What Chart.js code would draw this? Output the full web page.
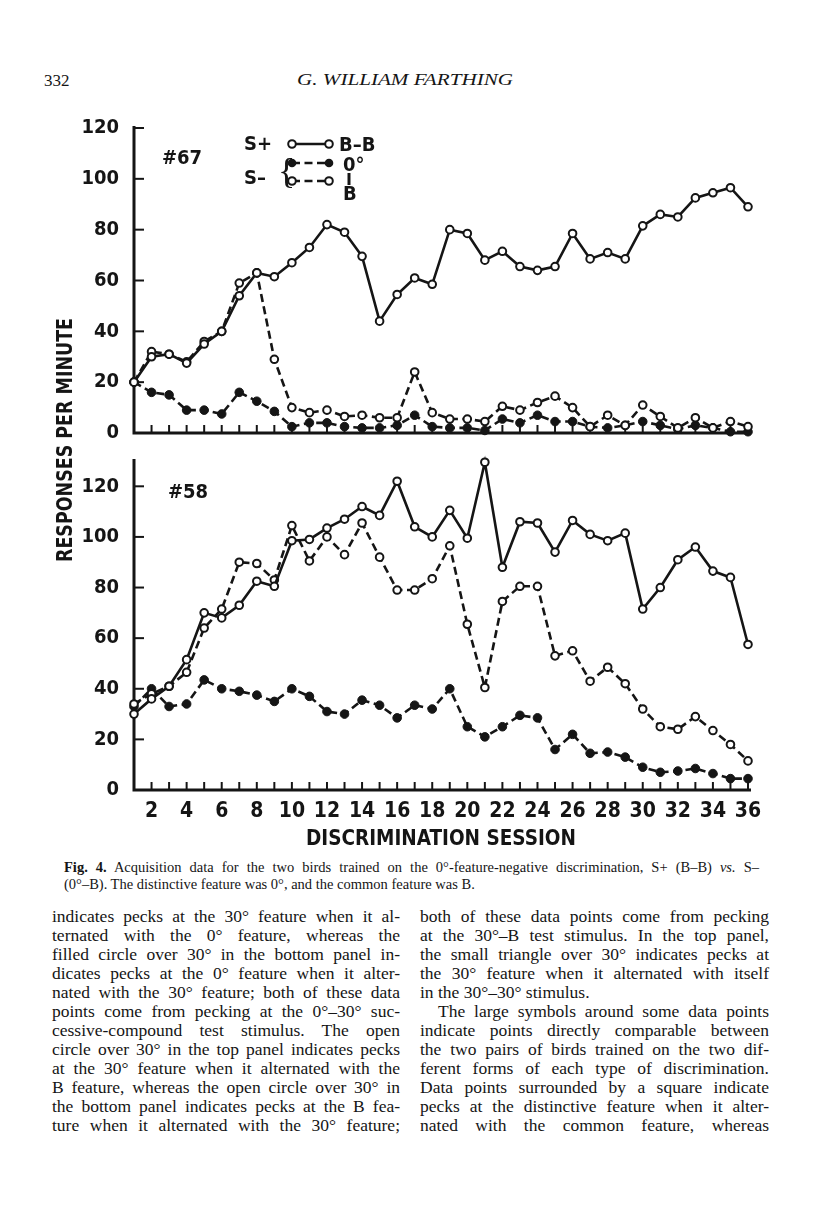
<!DOCTYPE html>
<html>
<head>
<meta charset="utf-8">
<title>Fig. 4</title>
<script src="https://cdn.jsdelivr.net/npm/chart.js@4.4.1/dist/chart.umd.min.js"></script>
<style>
  body { margin: 0; background: #fff; }
  #page { position: relative; width: 816px; height: 1207px; overflow: hidden; background: #fff; color: #151515; }
  .t { position: absolute; white-space: nowrap; line-height: 1; }
  .g { font-family: 'DejaVu Sans Condensed', 'DejaVu Sans', sans-serif; font-weight: bold; }
  .s { font-family: 'Liberation Serif', 'DejaVu Serif', serif; }
  .ln { position: absolute; white-space: nowrap; line-height: 19px; font-size: 17.5px; transform-origin: 0 50%; }
  .cap { position: absolute; white-space: nowrap; line-height: 17px; font-size: 14.5px; transform-origin: 0 50%; }
  canvas { position: absolute; left: 0; }
</style>
</head>
<body>
<div id="page">
  <div class="t s" style="left:44px;top:72px;font-size:17px">332</div>
  <div class="t s fit" data-w="216" style="left:297px;top:71px;font-size:17px;font-style:italic">G. WILLIAM FARTHING</div>

  <canvas id="c67" width="816" height="352" style="top:100px"></canvas>
  <canvas id="c58" width="816" height="388" style="top:442px"></canvas>

  <!-- legend samples -->
  <svg style="position:absolute;left:0;top:0" width="816" height="220">
    <g stroke="#151515" stroke-width="2.6" fill="none">
      <line x1="292" y1="144" x2="329" y2="144"/>
      <line x1="292" y1="163" x2="329" y2="163" stroke-dasharray="8 4.5"/>
      <line x1="292" y1="181" x2="329" y2="181" stroke-dasharray="8 4.5"/>
      <line x1="349" y1="173" x2="349" y2="185" stroke-width="3"/>
    </g>
    <g stroke="#151515" stroke-width="2" fill="#fff">
      <circle cx="292" cy="144" r="3.8"/><circle cx="329" cy="144" r="3.8"/>
      <circle cx="292" cy="181" r="3.8"/><circle cx="329" cy="181" r="3.8"/>
    </g>
    <g fill="#151515">
      <circle cx="292" cy="163" r="4.3"/><circle cx="329" cy="163" r="4.3"/>
    </g>
  </svg>
  <div class="t g" style="left:244px;top:133px;font-size:20px">S+</div>
  <div class="t g" style="left:339px;top:134px;font-size:20px">B–B</div>
  <div class="t g" style="left:343px;top:154px;font-size:20px">0°</div>
  <div class="t g" style="left:244px;top:167px;font-size:20px">S–</div>
  <div class="t s" style="left:278px;top:153px;font-size:36px">{</div>
  <div class="t g" style="left:343px;top:183px;font-size:20px">B</div>
  <div class="t g" style="left:162px;top:147px;font-size:20px">#67</div>
  <div class="t g" style="left:168px;top:481px;font-size:20px">#58</div>

  <div class="t g" id="ytitle" style="left:65px;top:440px;font-size:22px">RESPONSES PER MINUTE</div>
  <div class="t g" id="xtitle" style="left:441px;top:838px;font-size:22px">DISCRIMINATION SESSION</div>

  <div class="cap s just" data-w="695" style="left:64px;top:859px"><b>Fig. 4.</b> Acquisition data for the two birds trained on the 0°-feature-negative discrimination, S+ (B–B) <i>vs.</i> S–</div>
  <div class="cap s" style="left:64px;top:876px">(0°–B). The distinctive feature was 0°, and the common feature was B.</div>

  <div id="body"></div>
</div>

<script>
const ink = '#151515';
const gfont = "'DejaVu Sans Condensed', 'DejaVu Sans', sans-serif";

// sessions and labelled sessions on the x axis
const sessions = [1, 2, 3, 4, 5, 6, 7, 8, 9, 10, 11, 12, 13, 14, 15, 16, 17, 18,
  19, 20, 21, 22, 23, 24, 25, 26, 27, 28, 29, 30, 31, 32, 33, 34, 35, 36];
const xTickLabels = [2, 4, 6, 8, 10, 12, 14, 16, 18, 20, 22, 24, 26, 28, 30, 32, 34, 36];
const yTickLabels = [0, 20, 40, 60, 80, 100, 120];

// bird #67
const sPlus67 = [20, 30, 31, 27.5, 35, 40, 54, 63, 61.5, 67, 73, 82, 79, 69.5, 44, 54.5, 61, 58.5,
  80, 78.5, 68, 71.5, 65.5, 64, 65.5, 78.5, 68.5, 71, 68.5, 81.5, 86, 85, 92.5, 94.5, 96.5, 89];
const sMinusB67 = [20, 32, 31, 28, 36, 40, 59, 63, 29, 10, 8, 9, 6.5, 7, 6, 6, 24, 8,
  5.5, 5.5, 4.5, 10.5, 9, 12, 14.5, 10, 2.5, 7, 3, 11, 6.5, 2, 6, 2, 4.5, 2.5];
const sMinus0_67 = [20, 16, 15, 9, 9, 7.5, 16, 12.5, 8.5, 2.5, 4, 4, 2.5, 2, 2, 3, 7, 2.5,
  2, 2, 1, 5.5, 4, 7, 4.5, 4.5, 2.5, 2, 3, 4.5, 3, 1.5, 3, 2, 0.5, 0.5];

// bird #58
const sPlus58 = [30, 36, 41, 51.5, 70, 68, 73, 82.5, 80.5, 98.5, 99, 103.5, 107, 112, 108.5, 122, 104, 100,
  110.5, 99.5, 129.5, 88, 106, 105.5, 94, 106.5, 101, 98.5, 101.5, 71.5, 80, 91, 96, 86.5, 84, 57.5];
const sMinusB58 = [34, 38, 41, 46.5, 64, 71.5, 90, 89.5, 83, 104.5, 90.5, 100, 93, 105.5, 92, 79, 79, 83.5,
  96.5, 65.5, 40.5, 74.5, 80.5, 80.5, 53, 55, 43, 48.5, 42, 32, 25, 24, 29, 23.5, 18, 11.5];
const sMinus0_58 = [33, 40, 33, 34, 43.5, 40, 39, 37.5, 35, 40, 37, 31, 30, 35.5, 33.5, 28.5, 33.5, 32,
  40, 25, 21, 25, 29.5, 28.5, 16, 22, 14.5, 15, 13, 9, 7, 7.5, 8.5, 6.5, 4.5, 4.5];

// axis lines plus the short inward ticks
const axesMarks = {
  id: 'axesMarks',
  beforeDatasetsDraw(chart) {
    const {ctx, chartArea: a, scales: {x, y}} = chart;
    ctx.save();
    ctx.strokeStyle = ink;
    ctx.lineWidth = 3;
    ctx.beginPath();
    ctx.moveTo(a.left, a.top - 2);
    ctx.lineTo(a.left, a.bottom);
    ctx.lineTo(a.right + 3, a.bottom);
    ctx.stroke();
    ctx.lineWidth = 2;
    y.ticks.forEach(t => {
      if (t.value === 0) return;
      const py = y.getPixelForValue(t.value);
      ctx.beginPath(); ctx.moveTo(a.left, py); ctx.lineTo(a.left + 10, py); ctx.stroke();
    });
    sessions.forEach((s, i) => {
      const px = x.getPixelForValue(i);
      ctx.beginPath(); ctx.moveTo(px, a.bottom); ctx.lineTo(px, a.bottom - 8); ctx.stroke();
    });
    ctx.restore();
  }
};

function line(data, dashed, filled) {
  return {
    data: data,
    borderColor: ink,
    borderWidth: 2.6,
    borderDash: dashed ? [8, 4.5] : [],
    tension: 0,
    clip: false,
    pointRadius: filled ? 4.3 : 3.8,
    pointBorderWidth: filled ? 1 : 2,
    pointBackgroundColor: filled ? ink : '#fff',
    pointBorderColor: ink
  };
}

function panel(id, series, yMax, showX, padTop, padBottom) {
  new Chart(document.getElementById(id), {
    type: 'line',
    data: {
      labels: sessions,
      datasets: [line(series[0], false, false), line(series[1], true, false), line(series[2], true, true)]
    },
    options: {
      responsive: false,
      animation: false,
      layout: { padding: { left: 70, right: 68, top: padTop, bottom: padBottom } },
      plugins: { legend: { display: false }, tooltip: { enabled: false } },
      scales: {
        x: {
          offset: false,
          grid: { display: false },
          border: { display: false },
          ticks: {
            display: showX, autoSkip: false, maxRotation: 0, padding: 1, color: ink,
            font: { family: gfont, weight: 'bold', size: 21 },
            callback: (v, i) => xTickLabels.includes(sessions[i]) ? String(sessions[i]) : ''
          },
          afterFit: s => { s.height = showX ? 40 : 0; }
        },
        y: {
          min: 0, max: yMax,
          grid: { display: false },
          border: { display: false },
          ticks: {
            stepSize: 10, padding: 7, color: ink,
            font: { family: gfont, weight: 'bold', size: 20 },
            callback: v => yTickLabels.includes(v) ? String(v) : ''
          },
          afterFit: s => { s.width = 64; }
        }
      }
    },
    plugins: [axesMarks]
  });
}

panel('c67', [sPlus67, sMinusB67, sMinus0_67], 120, false, 28, 14);
panel('c58', [sPlus58, sMinusB58, sMinus0_58], 130, true, 14, 0);

// body text, two columns
const leftLines = [
  'indicates pecks at the 30° feature when it al-',
  'ternated with the 0° feature, whereas the',
  'filled circle over 30° in the bottom panel in-',
  'dicates pecks at the 0° feature when it alter-',
  'nated with the 30° feature; both of these data',
  'points come from pecking at the 0°–30° suc-',
  'cessive-compound test stimulus. The open',
  'circle over 30° in the top panel indicates pecks',
  'at the 30° feature when it alternated with the',
  'B feature, whereas the open circle over 30° in',
  'the bottom panel indicates pecks at the B fea-',
  'ture when it alternated with the 30° feature;'
];
const rightLines = [
  'both of these data points come from pecking',
  'at the 30°–B test stimulus. In the top panel,',
  'the small triangle over 30° indicates pecks at',
  'the 30° feature when it alternated with itself',
  'in the 30°–30° stimulus.',
  'The large symbols around some data points',
  'indicate points directly comparable between',
  'the two pairs of birds trained on the two dif-',
  'ferent forms of each type of discrimination.',
  'Data points surrounded by a square indicate',
  'pecks at the distinctive feature when it alter-',
  'nated with the common feature, whereas'
];
const body = document.getElementById('body');
function addLine(text, x, y, w, justify) {
  const d = document.createElement('div');
  d.className = 'ln s' + (justify ? ' just' : '');
  d.dataset.w = w;
  d.style.left = x + 'px';
  d.style.top = y + 'px';
  d.textContent = text;
  body.appendChild(d);
}
leftLines.forEach((t, i) => addLine(t, 52, 907 + 19 * i, 348, true));
rightLines.forEach((t, i) => {
  const indent = i === 5 ? 18 : 0;
  addLine(t, 420 + indent, 907 + 19 * i, 349 - indent, i !== 4);
});

function layoutText() {
  document.querySelectorAll('.just').forEach(el => {
    const target = +el.dataset.w;
    el.style.wordSpacing = '0px';
    const w = el.getBoundingClientRect().width;
    const gaps = (el.textContent.match(/ /g) || []).length;
    if (w < target && gaps) el.style.wordSpacing = ((target - w) / gaps) + 'px';
    else if (w > target) el.style.transform = 'scaleX(' + (target / w) + ')';
  });
  document.querySelectorAll('.fit').forEach(el => {
    const w = el.getBoundingClientRect().width;
    el.style.transformOrigin = '0 50%';
    el.style.transform = 'scaleX(' + (+el.dataset.w / w) + ')';
  });
  const yt = document.getElementById('ytitle');
  const ky = 244 / yt.getBoundingClientRect().width;
  yt.style.transform = 'translate(-50%,-50%) rotate(-90deg) scaleX(' + ky + ')';
  const xt = document.getElementById('xtitle');
  const kx = 270 / xt.getBoundingClientRect().width;
  xt.style.transform = 'translate(-50%,-50%) scaleX(' + kx + ')';
}
if (document.fonts && document.fonts.ready) document.fonts.ready.then(layoutText);
else layoutText();
</script>
</body>
</html>
